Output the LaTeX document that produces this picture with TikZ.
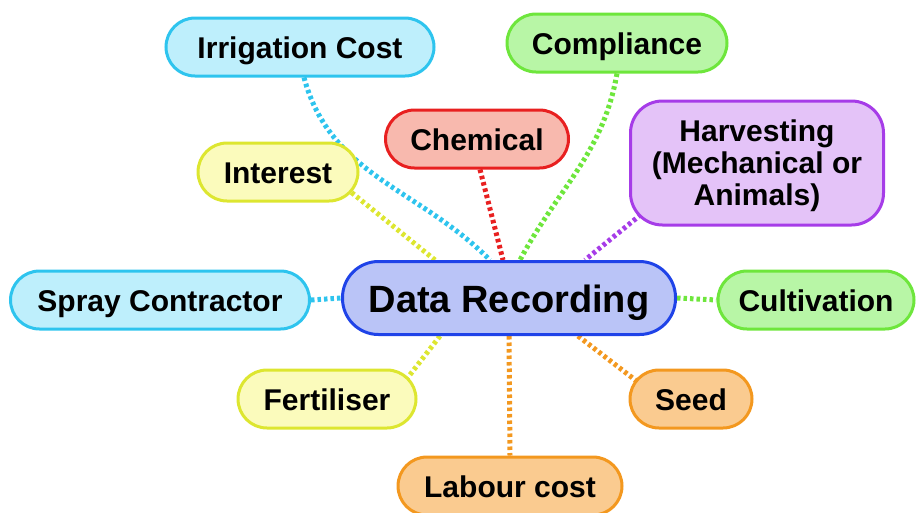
\documentclass[tikz,border=0pt]{standalone}
\usepackage{fontspec}
\setmainfont{Liberation Sans}
\usetikzlibrary{backgrounds}
\definecolor{mycyan}{HTML}{2EC4EE}
\definecolor{mycyanfill}{HTML}{BEEFFC}
\definecolor{mygreen}{HTML}{6EE63C}
\definecolor{mygreenfill}{HTML}{B8F6A6}
\definecolor{myred}{HTML}{E82020}
\definecolor{myredfill}{HTML}{F8B9AE}
\definecolor{mypurple}{HTML}{A63CE8}
\definecolor{mypurplefill}{HTML}{E4C3F8}
\definecolor{myyellow}{HTML}{DDE630}
\definecolor{myyellowfill}{HTML}{FBFBBC}
\definecolor{myorange}{HTML}{F3981F}
\definecolor{myorangefill}{HTML}{FACB90}
\definecolor{myblue}{HTML}{1F43E8}
\definecolor{mybluefill}{HTML}{BAC4F7}

\begin{document}
\begin{tikzpicture}[x=1pt,y=-1pt]
\tikzset{TopicStyle/.style ={draw, line width=3pt, rounded corners=29pt, minimum height=58pt,
  align=center, text height=22pt, text depth=0pt, font=\fontsize{30}{32}\selectfont\bfseries}}
\tikzset{CyanTopic/.style ={TopicStyle, draw=mycyan, fill=mycyanfill}}
\tikzset{GreenTopic/.style ={TopicStyle, draw=mygreen, fill=mygreenfill}}
\tikzset{RedTopic/.style ={TopicStyle, draw=myred, fill=myredfill}}
\tikzset{PurpleTopic/.style ={TopicStyle, draw=mypurple, fill=mypurplefill}}
\tikzset{YellowTopic/.style ={TopicStyle, draw=myyellow, fill=myyellowfill}}
\tikzset{OrangeTopic/.style ={TopicStyle, draw=myorange, fill=myorangefill}}
\tikzset{LinkStyle/.style ={line width=5pt, dash pattern=on 3.5pt off 3pt}}
\useasboundingbox (0,0) rectangle (916,512);
% centre
\node[TopicStyle, draw=myblue, fill=mybluefill, minimum width=333pt, minimum height=73pt,
  rounded corners=36pt, text height=28pt, font=\fontsize{38}{40}\selectfont\bfseries] (data) at (509,298) {Data Recording};
% topics
\node[CyanTopic, minimum width=268pt] (irrigation) at (300,47) {Irrigation Cost};
\node[GreenTopic, minimum width=220pt] (compliance) at (617,43) {Compliance};
\node[RedTopic, minimum width=183pt] (chemical) at (477,139) {Chemical};
\node[PurpleTopic, minimum width=253pt, minimum height=124pt, rounded corners=32pt,
  text height=88pt, text depth=4pt] (harvesting) at (757,163)
  {Harvesting\\(Mechanical or\\Animals)};
\node[YellowTopic, minimum width=160pt] (interest) at (278,172) {Interest};
\node[CyanTopic, minimum width=299pt] (spray) at (160,300) {Spray Contractor};
\node[GreenTopic, minimum width=196pt] (cultivation) at (816,300) {Cultivation};
\node[YellowTopic, minimum width=178pt] (fertiliser) at (327,399) {Fertiliser};
\node[OrangeTopic, minimum width=122pt] (seed) at (691,399) {Seed};
\node[OrangeTopic, minimum width=224pt] (labour) at (510,486) {Labour cost};
% links
\begin{scope}[on background layer]
\draw[LinkStyle, mycyan] ([xshift=4pt]irrigation.south) to[out=-75, in=135] ([xshift=-19pt]data.north);
\draw[LinkStyle, mygreen] (compliance.south) to[out=-100, in=62] ([xshift=11pt]data.north);
\draw[LinkStyle, myred] ([xshift=3pt]chemical.south) -- ([xshift=-6pt]data.north);
\draw[LinkStyle, myyellow] ([xshift=-8pt,yshift=10pt]interest.south east) -- ([xshift=-74pt]data.north);
\draw[LinkStyle, mypurple] ([xshift=12pt,yshift=12pt]harvesting.south west) -- ([xshift=76pt]data.north);
\draw[LinkStyle, mycyan] (spray.east) -- (data.west);
\draw[LinkStyle, mygreen] (data.east) -- (cultivation.west);
\draw[LinkStyle, myyellow] ([xshift=-69pt]data.south) -- ([xshift=-12pt,yshift=-12pt]fertiliser.north east);
\draw[LinkStyle, myorange] (data.south) -- (labour.north);
\draw[LinkStyle, myorange] ([xshift=69pt]data.south) -- ([xshift=10pt,yshift=-14pt]seed.north west);
\end{scope}
\end{tikzpicture}
\end{document}
